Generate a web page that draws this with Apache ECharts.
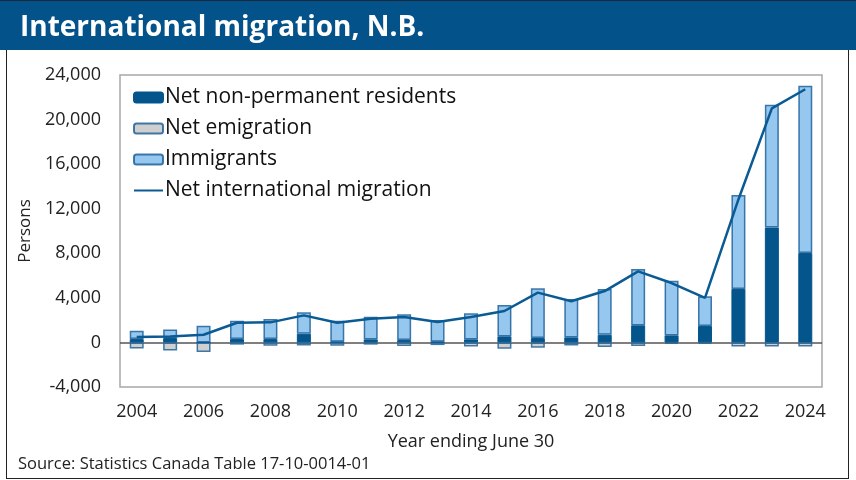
<!DOCTYPE html>
<html>
<head>
<meta charset="utf-8">
<script src="https://cdn.jsdelivr.net/npm/echarts@6/dist/echarts.min.js"></script>
<style>
  html, body { margin: 0; padding: 0; background: #fff; }
  #wrap { position: relative; width: 856px; height: 480px; overflow: hidden; }
  #band { position: absolute; left: 0; top: 0; width: 856px; height: 50px; background: #03528a; border-top: 1px solid #1a2a3a; box-sizing: border-box; }
  #frame { position: absolute; left: 6px; top: 50px; width: 843px; height: 429px; border: 1.5px solid #222; border-top: none; box-sizing: border-box; }
  #chart { position: absolute; left: 0; top: 0; width: 856px; height: 480px; }
</style>
</head>
<body>
<div id="wrap">
  <div id="band"></div>
  <div id="frame"></div>
  <div id="chart"></div>
</div>
<script>
const years = ['2004', '2005', '2006', '2007', '2008', '2009', '2010', '2011', '2012', '2013', '2014',
  '2015', '2016', '2017', '2018', '2019', '2020', '2021', '2022', '2023', '2024']

const netNonPermanent = [300, 390, 0, 300, 300, 780, 60, 270, 210, 60, 270,
  540, 390, 450, 690, 1530, 630, 1470, 4800, 10310, 8030]

const netEmigration = [-550, -720, -870, -200, -300, -270, -300, -200, -330, -240, -360,
  -570, -480, -270, -420, -330, -100, -100, -360, -360, -360]

const immigrants = [750, 780, 1500, 1650, 1800, 1920, 1880, 2040, 2310, 1950, 2340,
  2820, 4470, 3450, 4110, 5060, 4900, 2670, 8420, 11030, 15000]

const netInternational = [480, 540, 690, 1770, 1800, 2430, 1770, 2130, 2280, 1830, 2280,
  2820, 4470, 3690, 4610, 6380, 5330, 3990, 12830, 21010, 22720]

const font = '"Open Sans", "Noto Sans", sans-serif'
const lineName = 'Net international migration'

const chart = echarts.init(document.getElementById('chart'))

const option = {
  animation: false,
  textStyle: { fontFamily: font },
  title: {
    text: 'International migration, N.B.',
    left: 15,
    top: 9,
    textStyle: { color: '#fff', fontSize: 28, fontWeight: 'bold', fontFamily: font },
  },
  legend: {
    orient: 'vertical',
    left: 133,
    top: 87,
    itemWidth: 29,
    itemHeight: 10,
    itemGap: 10,
    padding: 0,
    textStyle: { fontSize: 21, color: '#111', padding: [0, 0, 0, -3] },
    data: [
      'Net non-permanent residents',
      'Net emigration',
      'Immigrants',
      { name: lineName, itemStyle: { opacity: 0 } },
    ],
  },
  grid: {
    left: 120,
    right: 34,
    top: 75,
    bottom: 93,
    show: true,
    borderColor: '#a8a8a8',
    borderWidth: 1.5,
  },
  xAxis: {
    type: 'category',
    data: years,
    name: 'Year ending June 30',
    nameLocation: 'middle',
    nameGap: 46,
    nameTextStyle: { fontSize: 18, color: '#222' },
    axisLine: { show: false, onZero: false },
    axisTick: { show: false },
    axisLabel: { interval: 1, fontSize: 18, color: '#222', margin: 16 },
  },
  yAxis: {
    type: 'value',
    min: -4000,
    max: 24000,
    interval: 4000,
    name: 'Persons',
    nameLocation: 'middle',
    nameGap: 86,
    nameTextStyle: { fontSize: 17, color: '#222' },
    axisLine: { show: false },
    axisTick: { show: false },
    splitLine: { show: false },
    axisLabel: {
      fontSize: 18,
      color: '#222',
      margin: 19,
      formatter: (v) => v.toLocaleString('en-US'),
    },
  },
  series: [
    {
      name: 'Net non-permanent residents',
      type: 'bar',
      stack: 'total',
      barWidth: 14,
      itemStyle: { color: '#03558c', borderColor: '#03558c', borderWidth: 1 },
      data: netNonPermanent,
    },
    {
      name: 'Net emigration',
      type: 'bar',
      stack: 'total',
      barWidth: 14,
      itemStyle: { color: '#cfcfcf', borderColor: 'rgba(20,90,150,0.8)', borderWidth: 1.5 },
      data: netEmigration,
    },
    {
      name: 'Immigrants',
      type: 'bar',
      stack: 'total',
      barWidth: 14,
      itemStyle: { color: '#95c7ef', borderColor: 'rgba(20,90,150,0.8)', borderWidth: 1.5 },
      data: immigrants,
    },
    {
      name: lineName,
      type: 'line',
      symbol: 'none',
      z: 5,
      lineStyle: { color: '#0a5a93', width: 2.5 },
      itemStyle: { color: '#0a5a93' },
      data: netInternational,
      markLine: {
        silent: true,
        symbol: 'none',
        label: { show: false },
        lineStyle: { color: '#555', width: 1.5, type: 'solid' },
        data: [{ yAxis: 0 }],
        z: 1,
      },
    },
  ],
  graphic: [
    {
      type: 'text',
      left: 18,
      top: 456,
      style: {
        text: 'Source: Statistics Canada Table 17-10-0014-01',
        fontSize: 16.5,
        fill: '#222',
        fontFamily: font,
      },
    },
  ],
}

chart.setOption(option)
</script>
</body>
</html>
